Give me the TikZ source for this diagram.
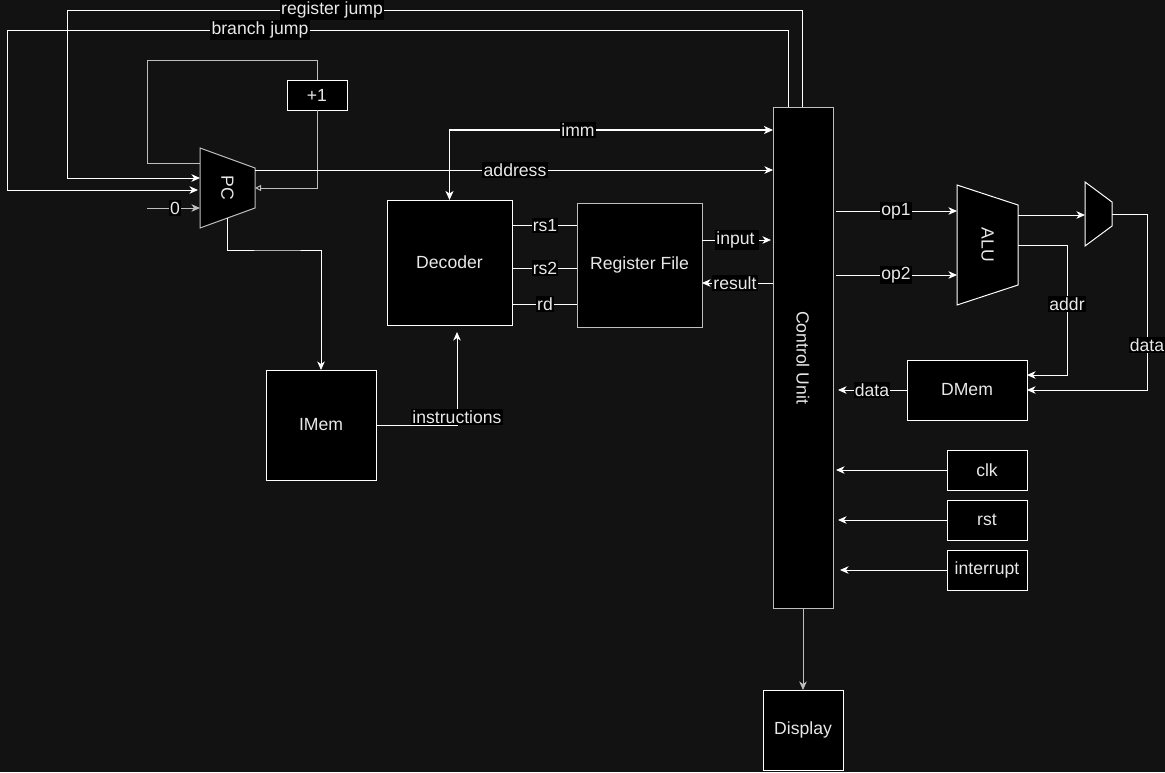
\documentclass[tikz,border=0pt]{standalone}
\usepackage{fontspec}
\usepackage{graphicx}
\setmainfont{Liberation Sans}
\usetikzlibrary{arrows.meta,calc}
\definecolor{bg}{RGB}{18,18,18}
\definecolor{txt}{RGB}{232,232,232}
\definecolor{gry}{RGB}{190,190,190}
\begin{document}
\begin{tikzpicture}[x=1pt,y=-1pt,
  base/.style={font=\fontsize{17.6}{20}\selectfont, text=txt},
  box/.style={base, draw=white, fill=black, line width=1pt, rectangle, inner sep=0pt, outer sep=0pt},
  gbox/.style={box, draw=gry},
  hid/.style={base, rectangle, inner sep=0pt, outer sep=0pt},
  lbl/.style={base, fill=black, inner xsep=1.2pt, inner ysep=1.5pt},
  wire/.style={draw=white, line width=1pt},
  gwire/.style={draw=gry, line width=1pt},
  tip/.style={-{Stealth[length=8.5pt,width=7.5pt,inset=2.5pt]}},
  otip/.style={-{Triangle[open,length=6pt,width=6pt]}},
]
\useasboundingbox (0,0) rectangle (1165,772);
\fill[bg] (0,0) rectangle (1165,772);

% ---- shapes ----
\filldraw[fill=black, draw=gry, line width=1pt] (200,148) -- (255,168) -- (255,208) -- (200,228) -- cycle;
\node[hid, minimum width=55pt, minimum height=80pt] (pc) at (227.5,188) {\rotatebox{-90}{PC}};
\filldraw[fill=black, draw=white, line width=1pt] (957,185) -- (1018,205) -- (1018,285) -- (957,305) -- cycle;
\node[hid, minimum width=61pt, minimum height=120pt] (alu) at (987.5,245) {\rotatebox{-90}{ALU}};
\filldraw[fill=black, draw=white, line width=1pt] (1085,182) -- (1112,202) -- (1112,226) -- (1085,246) -- cycle;
\node[hid, minimum width=27pt, minimum height=64pt] (mux) at (1098.5,214) {};

\node[box, minimum width=60pt, minimum height=30pt] (plus1) at (317,95) {+1};
\node[box, minimum width=110pt, minimum height=110pt] (imem) at (321,425) {IMem};
\node[box, minimum width=125pt, minimum height=125pt] (dec) at (449.5,262.5) {Decoder};
\node[gbox, minimum width=125pt, minimum height=124pt] (rf) at (639.5,265) {Register File};
\node[gbox, minimum width=60pt, minimum height=501pt] (cu) at (803,357.5) {\rotatebox{-90}{Control Unit}};
\node[box, minimum width=80pt, minimum height=80pt] (disp) at (803,730) {Display};
\node[box, minimum width=80pt, minimum height=40pt] (clk) at (987,470) {clk};
\node[box, minimum width=80pt, minimum height=40pt] (rst) at (987,520) {rst};
\node[box, minimum width=80pt, minimum height=40pt] (intr) at (987,570) {interrupt};
\node[box, minimum width=120pt, minimum height=60pt] (dmem) at (967,390) {DMem};

% ---- connectors ----
% register jump
\draw[wire,tip] ([xshift=-1pt]cu.north) |- (67,10) |- ([yshift=10pt]pc.west);
% branch jump
\draw[wire,tip] ([xshift=-15pt]cu.north) |- (7,30) |- ([yshift=-2pt,xshift=-2pt]pc.west);
% constant 0
\coordinate (zin) at (147,208);
\draw[gwire,tip] (zin) -- ([yshift=-20pt]pc.west);
% +1 loop
\draw[gwire] ([yshift=25pt]pc.west) -| (147,60) -| (plus1.north);
\draw[gwire,otip] (plus1.south) |- (pc.east);
% address
\draw[wire,tip] ([yshift=18pt]pc.east) -- ([yshift=18pt]pc.east -| cu.west);
% PC -> IMem
\draw[wire,tip] ([yshift=10pt]pc.south) |- (280,250) -| (imem.north);
% IMem -> Decoder
\draw[wire,tip] (imem.east) -| ([xshift=7.5pt,yshift=-7pt]dec.south);
% imm
\draw[draw=white, line width=1.6pt, {Stealth[length=9pt,width=8pt,inset=2.5pt]}-{Stealth[open,length=9pt,width=8pt,inset=2.5pt]}] (dec.north) |- ([yshift=-23pt]cu.north west);
% rs1 rs2 rd
\draw[wire] ([yshift=37pt]dec.east) -- ([yshift=37pt]dec.east -| rf.west);
\draw[wire] ([yshift=-5.5pt]dec.east) -- ([yshift=-5.5pt]dec.east -| rf.west);
\draw[wire] ([yshift=-41.5pt]dec.east) -- ([yshift=-41.5pt]dec.east -| rf.west);
% input / result
\draw[wire,tip] ([yshift=25pt]rf.east) -- ([yshift=25pt,xshift=-2pt]rf.east -| cu.west);
\draw[wire,tip] ([yshift=-18pt]rf.east -| cu.west) -- ([yshift=-18pt]rf.east);
% op1 / op2
\draw[wire,tip] ([yshift=34pt,xshift=3pt]alu.west -| cu.east) -- ([yshift=34pt]alu.west);
\draw[wire,tip] ([yshift=-30pt,xshift=3pt]alu.west -| cu.east) -- ([yshift=-30pt]alu.west);
% ALU -> mux
\draw[wire,tip] ([yshift=30pt]alu.east) -- ([yshift=30pt]alu.east -| mux.west);
% mux -> DMem data
\draw[wire,tip] (mux.east) -| (1147,300) |- (dmem.east);
% ALU -> DMem addr
\draw[wire,tip] ([yshift=-0.5pt]alu.east) -| (1067,300) |- ([yshift=15pt]dmem.east);
% DMem -> CU data
\draw[wire,tip] (dmem.west) -- ([xshift=5pt]dmem.west -| cu.east);
% clk rst interrupt
\draw[wire,tip] (clk.west) -- ([xshift=3pt]clk.west -| cu.east);
\draw[wire,tip] (rst.west) -- ([xshift=5pt]rst.west -| cu.east);
\draw[wire,tip] (intr.west) -- ([xshift=7pt]intr.west -| cu.east);
% CU -> Display
\draw[gwire,tip] (cu.south) -- (disp.north);

% ---- labels ----
\node[lbl] (lrj) at (332,10) {register jump};
\node[lbl] (lbj) at (260,30) {branch jump};
\node[lbl] (lz) at (175,208) {0};
\node[lbl] (laddr) at (515,170) {address};
\node[lbl] (limm) at (578,130) {imm};
\node[lbl] (lins) at (457,417) {instructions};
\node[lbl] (lrs1) at (545,225.5) {rs1};
\node[lbl] (lrs2) at (545,268) {rs2};
\node[lbl] (lrd) at (545,304) {rd};
\node[lbl] (lin) at (737,240) {input\,};
\node[lbl] (lres) at (735,283) {result};
\node[lbl] (lop1) at (896,211) {op1};
\node[lbl] (lop2) at (896,275) {op2};
\node[lbl] (laddr2) at (1067,304) {addr};
\node[lbl] (ldata1) at (1147,345) {data};
\node[lbl] (ldata2) at (872,390) {data};
\end{tikzpicture}
\end{document}
